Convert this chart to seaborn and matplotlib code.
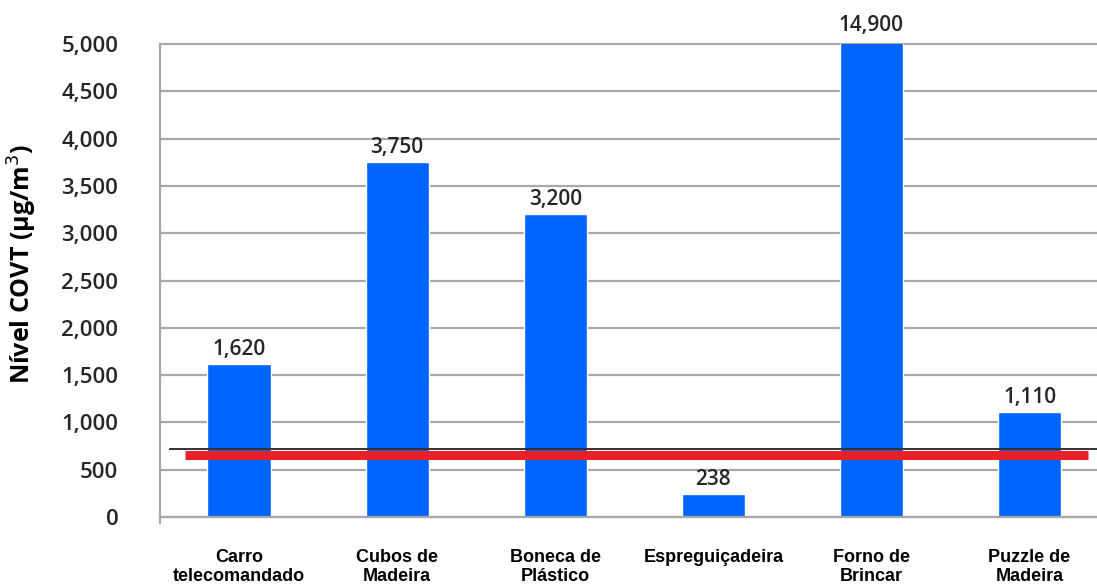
import matplotlib
matplotlib.use("Agg")
import matplotlib.pyplot as plt
import seaborn as sns
import numpy as np

# Data
categories = ["Carro\ntelecomandado", "Cubos de\nMadeira", "Boneca de\nPlástico",
              "Espreguiçadeira", "Forno de\nBrincar", "Puzzle de\nMadeira"]
values = [1620, 3750, 3200, 238, 14900, 1110]
value_labels = ["1,620", "3,750", "3,200", "238", "14,900", "1,110"]
y_ticks = [0, 500, 1000, 1500, 2000, 2500, 3000, 3500, 4000, 4500, 5000]
y_tick_labels = ["0", "500", "1,000", "1,500", "2,000", "2,500", "3,000",
                 "3,500", "4,000", "4,500", "5,000"]
limit_value = 655        # red reference line
limit_outline = 718      # thin dark line above it
y_max = 5000

sns.set_theme(style="white")
plt.rcParams["font.family"] = ["Open Sans", "DejaVu Sans"]

BLUE = "#0064FF"
RED = "#E8202A"
GRID = "#A8A8A8"
TEXT = "#2A2522"

fig = plt.figure(figsize=(10.97, 5.86), dpi=100)
ax = fig.add_axes([160 / 1097, 69 / 586, 937 / 1097, 473 / 586])

x_idx = np.arange(len(categories))
sns.barplot(x=x_idx, y=values, color=BLUE, width=0.4, saturation=1,
            ax=ax, native_scale=True, zorder=2)

ax.set_xlim(-0.5, -0.5 + 937 / 158.1)
ax.set_ylim(0, y_max)

# axes styling
ax.set_axisbelow(True)
ax.yaxis.grid(True, color=GRID, linewidth=1.6)
for gl in ax.get_ygridlines():
    gl.set_clip_on(False)
for side in ("top", "right"):
    ax.spines[side].set_visible(False)
for side in ("left", "bottom"):
    ax.spines[side].set_color(GRID)
    ax.spines[side].set_linewidth(1.6)
ax.spines["left"].set_bounds(-60, y_max)

ax.set_yticks(y_ticks)
ax.set_yticklabels(y_tick_labels)
ax.tick_params(axis="y", direction="out", length=8, width=1.5, color=GRID,
               pad=22, labelsize=16, labelcolor=TEXT)
for t in ax.get_yticklabels():
    t.set_fontweight("semibold")

# category labels at bar centres, boundary ticks as minor ticks
ax.set_xticks(x_idx)
ax.set_xticklabels(categories, fontsize=13, fontweight="bold",
                   family=["Liberation Sans Narrow", "Liberation Sans", "DejaVu Sans"],
                   color="black", linespacing=1.15, va="top")
ax.set_xticks(np.arange(len(categories)) - 0.5, minor=True)
ax.tick_params(axis="x", which="major", length=0, pad=23)
ax.tick_params(axis="x", which="minor", direction="out", length=8,
               width=1.5, color=GRID)
ax.set_xlabel("")
ax.set_ylabel("")

# reference lines
ax.hlines(limit_outline, -0.44, 5.43, color="#333333", linewidth=1.4, zorder=3)
ax.hlines(limit_value, -0.34, 5.37, color=RED, linewidth=6.5, zorder=4)

# value labels above bars (clipped bar labelled at top of axis)
for xi, v, lab in zip(x_idx, values, value_labels):
    top = min(v, y_max)
    off = 3 if v <= y_max else 6
    ax.annotate(lab, (xi, top), xytext=(0, off), textcoords="offset points",
                ha="center", va="bottom", fontsize=15, fontweight="semibold",
                color=TEXT, annotation_clip=False)

fig.text(22 / 1097, (586 - 264) / 586, "Nível COVT (µg/m$^{3}$)", rotation=90,
         ha="center", va="center", fontsize=18, fontweight="bold", color="black")

fig.savefig("out.png", dpi=100)
